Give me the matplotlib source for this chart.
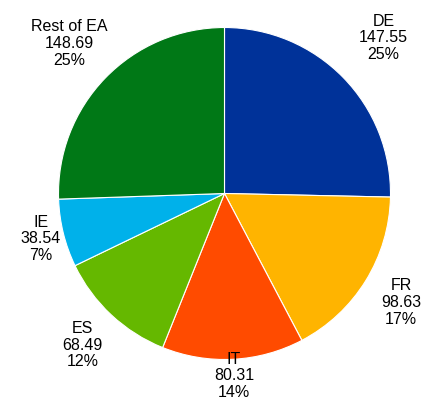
import numpy as np
import matplotlib.pyplot as plt

plt.rcParams['font.family'] = ['Liberation Sans', 'DejaVu Sans']

countries = ['DE', 'FR', 'IT', 'ES', 'IE', 'Rest of EA']
values = [147.55, 98.63, 80.31, 68.49, 38.54, 148.69]
shares = [25, 17, 14, 12, 7, 25]  # as printed on the chart
colors = ['#003299', '#FFB400', '#FF4B00', '#65B800', '#00B1EA', '#007816']
# distance of each label from the centre, in pie radii
label_dist = [1.34, 1.25, 1.10, 1.25, 1.14, 1.30]

W, H = 427, 405
fig = plt.figure(figsize=(W / 100, H / 100), dpi=100)
cx, cy, r = 224.5, 193.5, 166
ax = fig.add_axes([(cx - r) / W, 1 - (cy + r) / H, 2 * r / W, 2 * r / H])

wedges, _ = ax.pie(values, colors=colors, startangle=90, counterclock=False,
                   wedgeprops=dict(edgecolor='white', linewidth=0.8))
ax.set_xlim(-1, 1)
ax.set_ylim(-1, 1)
ax.set_aspect('equal')
ax.axis('off')

for w, name, v, s, d in zip(wedges, countries, values, shares, label_dist):
    ang = np.deg2rad((w.theta1 + w.theta2) / 2)
    ax.text(d * np.cos(ang), d * np.sin(ang),
            '{}\n{:.2f}\n{}%'.format(name, v, s),
            ha='center', va='center', fontsize=11.5, linespacing=1.15,
            clip_on=False)

fig.savefig('out.png', dpi=100)
